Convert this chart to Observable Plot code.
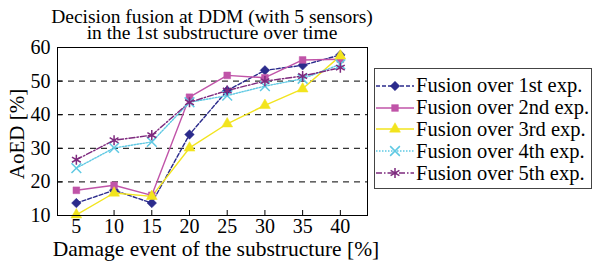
<!DOCTYPE html>
<html>
<head>
<meta charset="utf-8">
<script src="https://cdn.jsdelivr.net/npm/d3@7"></script>
<script src="https://cdn.jsdelivr.net/npm/@observablehq/plot@0.6"></script>
<style>
  html, body { margin: 0; padding: 0; background: #fff; }
  #wrap { position: relative; width: 593px; height: 261px; font-family: "Liberation Serif", "Times New Roman", "DejaVu Serif", serif; color: #000; }
  #title { position: absolute; left: 12px; width: 400px; top: 9px; text-align: center; font-size: 19.5px; line-height: 16px; }
  #xlabel { position: absolute; left: 16px; width: 400px; top: 238px; line-height: 22px; text-align: center; font-size: 21.5px; white-space: nowrap; }
  #ylabel { position: absolute; left: 17px; top: 134px; transform: translate(-50%, -50%) rotate(-90deg); font-size: 21px; white-space: nowrap; line-height: 22px; }
  #legend { position: absolute; left: 374px; top: 68px; width: 218px; height: 121px; border: 1px solid #444; box-sizing: border-box; padding-top: 6px; }
  .lrow { display: flex; align-items: center; height: 21.8px; font-size: 20.5px; white-space: nowrap; }
  .lrow svg { flex: none; margin-right: 1px; }
  #chart { position: absolute; left: 0; top: 0; }
</style>
</head>
<body>
<div id="wrap">
  <div id="chart"></div>
  <div id="title">Decision fusion at DDM (with 5 sensors)<br>in the 1st substructure over time</div>
  <div id="ylabel">AoED [%]</div>
  <div id="xlabel">Damage event of the substructure [%]</div>
  <div id="legend"></div>
</div>
<script>
const damage = [5, 10, 15, 20, 25, 30, 35, 40];
const seriesNames = ["Fusion over 1st exp.", "Fusion over 2nd exp.", "Fusion over 3rd exp.", "Fusion over 4th exp.", "Fusion over 5th exp."];
const exp1 = [13.7, 17.5, 13.7, 34.1, 47.2, 53.2, 54.7, 57.8];
const exp2 = [17.5, 19.0, 16.0, 45.2, 51.7, 51.0, 56.3, 56.5];
const exp3 = [10.2, 16.7, 15.7, 30.1, 37.3, 42.8, 47.7, 57.5];
const exp4 = [24.1, 30.1, 31.9, 43.7, 45.7, 48.5, 50.7, 55.0];
const exp5 = [26.6, 32.4, 33.9, 43.7, 47.2, 50.0, 51.5, 54.0];
const xTicks = [5, 10, 15, 20, 25, 30, 35, 40];
const yTicks = [10, 20, 30, 40, 50, 60];
const gridLines = [20, 30, 40, 50];

const colors = ["#2b2b8c", "#c054a8", "#f2e41e", "#5fc9e3", "#7e2a7e"];
const dashes = ["4,2", null, null, "1.5,1.5", "6,2,1.5,2"];
const symbols = ["diamond2", "square2", "triangle2", "times", "asterisk"];
const symSize = [4.3, 4.3, 5.2, 4.5, 4.8];
const filled = [true, true, true, false, false];

const allSeries = [exp1, exp2, exp3, exp4, exp5];
const data = allSeries.map((vals, i) => damage.map((d, j) => ({s: i, x: d, y: vals[j]})));

const W = 593, H = 261, mL = 57, mR = 226, mT = 47, mB = 46;
const plotW = W - mL - mR, plotH = H - mT - mB;
const FONT = "'Liberation Serif', 'Times New Roman', 'DejaVu Serif', serif";

const marks = [
  Plot.ruleY(gridLines, {y: d => d, stroke: "#000", strokeDasharray: "6,5", strokeWidth: 1}),
  Plot.tickX(xTicks, {x: d => d, stroke: "#000", insetTop: plotH - 5}),
  Plot.tickY(yTicks, {y: d => d, stroke: "#000", insetRight: plotW - 5}),
  Plot.axisX({ticks: xTicks, tickSize: 0, tickPadding: 3, fontSize: 20, fontFamily: FONT, label: null, tickFormat: d => String(d)}),
  Plot.axisY({ticks: yTicks, tickSize: 0, tickPadding: 7, fontSize: 20, fontFamily: FONT, label: null, tickFormat: d => String(d)})
];
data.forEach((rows, i) => {
  marks.push(Plot.line(rows, {x: "x", y: "y", stroke: colors[i], strokeWidth: 1.4, strokeDasharray: dashes[i]}));
});
data.forEach((rows, i) => {
  marks.push(Plot.dot(rows, {
    x: "x", y: "y", symbol: () => symbols[i], r: symSize[i],
    fill: filled[i] ? colors[i] : "none",
    stroke: colors[i], strokeWidth: filled[i] ? 0.5 : 1.5
  }));
});
marks.push(Plot.frame({stroke: "#000", strokeWidth: 1}));

const chart = Plot.plot({
  width: W, height: H,
  marginLeft: mL, marginRight: mR, marginTop: mT, marginBottom: mB,
  style: {fontFamily: FONT, fontSize: "20px", color: "#000", background: "transparent", overflow: "visible"},
  x: {domain: [2.5, 43.6]},
  y: {domain: [10, 60]},
  marks
});
document.getElementById("chart").appendChild(chart);

// Legend
const legend = d3.select("#legend");
const symMap = {diamond2: d3.symbolDiamond2, square2: d3.symbolSquare2, triangle2: d3.symbolTriangle2, times: d3.symbolTimes, asterisk: d3.symbolAsterisk};
seriesNames.forEach((name, i) => {
  const row = legend.append("div").attr("class", "lrow");
  const svg = row.append("svg").attr("width", 40).attr("height", 14);
  svg.append("line").attr("x1", 1).attr("x2", 39).attr("y1", 7).attr("y2", 7)
    .attr("stroke", colors[i]).attr("stroke-width", 1.3)
    .attr("stroke-dasharray", dashes[i]);
  const area = Math.PI * symSize[i] * symSize[i];
  svg.append("path").attr("transform", "translate(20,7)")
    .attr("d", d3.symbol(symMap[symbols[i]], area)())
    .attr("fill", filled[i] ? colors[i] : "none")
    .attr("stroke", colors[i]).attr("stroke-width", filled[i] ? 0.5 : 1.5);
  row.append("span").text(name);
});
</script>
</body>
</html>
